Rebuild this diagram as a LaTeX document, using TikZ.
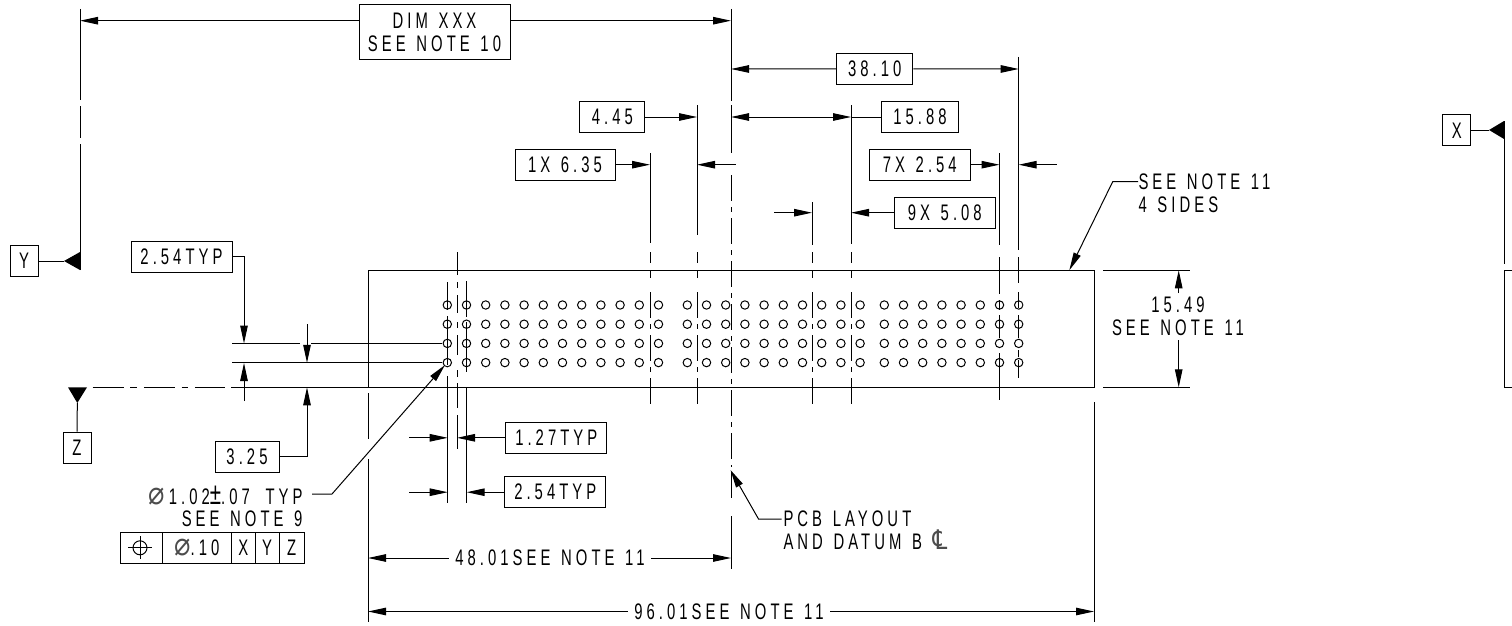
\documentclass[tikz,border=0pt]{standalone}
\usepackage{fontspec}
\setmainfont{Liberation Sans}[FakeStretch=0.66,LetterSpace=18,WordSpace=1.3]
\newfontfamily\symfont{DejaVu Sans}[FakeStretch=0.85]
\newcommand{\diasym}{{\symfont\fontsize{32}{22.7}\selectfont\color{black!70}⌀}}
\newcommand{\clsym}{{\symfont\fontsize{27}{22.7}\selectfont\color{black!70}℄}}
\newcommand{\plusminus}{{\fontsize{31}{22.7}\selectfont ±}}
\usetikzlibrary{arrows.meta}

\begin{document}
\begin{tikzpicture}[
                            x=1pt,
                            y=-1pt,
                            line width=1pt,
                            >={Stealth[length=18pt,width=7.5pt,inset=0pt]},
                            every node/.style={font=\fontsize{22.5}{22.7}\selectfont,inner sep=0pt}
                        ]

                        \tikzstyle{dimbox}=[draw,fill=white,minimum height=31pt]
                        \tikzstyle{fcfcell}=[draw,minimum height=31pt]
                        \tikzstyle{ctrline}=[dash pattern=on 26pt off 6pt on 5pt off 6pt]
                        \tikzstyle{axisline}=[dash pattern=on 31pt off 6.7pt on 6.7pt off 6.7pt]
                        \tikzstyle{runin}=[inner xsep=6pt]

                        \useasboundingbox (0,0) rectangle (1512,626);

                        \node[draw,minimum width=726pt,minimum height=117pt] (plate) at (731,328.7) {};

                        \foreach \gx/\gn in {447.3/11,687.3/9,884.3/7}
                            \foreach \c in {0,...,\gn}
                                \foreach \r in {0,...,3}
                                    \draw ({\gx+\c*19.2},{305+\r*19.2}) circle (4.2pt);

                        \foreach \ex/\et/\eb in {650/153/243,697/105/235,812/202/245,851/105/244}{
                            \draw (\ex,\et) -- (\ex,\eb);
                            \draw (\ex,252) -- (\ex,263);
                            \draw (\ex,270) -- (\ex,278);
                            \draw[ctrline] (\ex,292) -- (\ex,407);
                        }
                        \foreach \ex/\et/\eb in {
                            80/9/100,80/106/138,80/144/270,
                            447.7/282/310,447.7/316/365,447.7/376/503,
                            466.7/281/317,466.7/322/372,466.7/387/503,
                            457/252/275,457/282/288,457/295/313,457/322/328,457/335/355,457/370/377,457/383/408,457/415/449,
                            731/9/101,731/105/153,731/472/498,731/516/569,
                            999.5/153/245,999.5/257/294,999.5/300/310,999.5/315/338,999.5/353/400,
                            1018.7/57/250,1018.7/257/283,1018.7/292/308,1018.7/315/338,1018.7/350/357,1018.7/360/378,
                            368/393/439,368/459/622,1094/402/622,1504/121/264}
                            \draw (\ex,\et) -- (\ex,\eb);
                        \draw[ctrline] (731,175) -- (731,467);
                        \draw[axisline] (92.7,387.3) -- (225,387.3);
                        \draw (231,387.3) -- (368,387.3);
                        \draw (232,343.5) -- (300,343.5) (311,343.5) -- (442,343.5);
                        \draw (232,362.8) -- (442,362.8);
                        \draw (1103,270.3) -- (1190,270.3) (1103,387.3) -- (1190,387.3);
                        \draw (1512,270.3) -- (1504,270.3) -- (1504,387.3) -- (1512,387.3);

                        \fill (64,261) -- (80,252) -- (80,270) -- cycle;
                        \fill (68,387.3) -- (87,387.3) -- (77.3,403) -- cycle;
                        \fill (1489,130) -- (1504,121) -- (1504,139) -- cycle;

                        \node[dimbox,minimum height=55pt,minimum width=151pt,align=center] (dimxxx) at (434.5,32.5) {DIM XXX\\SEE NOTE 10};
                        \node[dimbox,minimum width=76.3pt] (d3810) at (874.8,68.8) {38.10};
                        \node[dimbox,minimum width=64.7pt] (d445)  at (612.3,117) {4.45};
                        \node[dimbox,minimum width=76.6pt] (d1588) at (920,117) {15.88};
                        \node[dimbox,minimum width=100pt]  (d635)  at (565,164.7) {1X 6.35};
                        \node[dimbox,minimum width=101pt]  (d254x) at (919.8,164.7) {7X 2.54};
                        \node[dimbox,minimum width=101pt]  (d508)  at (944.8,212.7) {9X 5.08};
                        \node[dimbox,minimum width=101pt]  (d254a) at (181.5,256.5) {2.54TYP};
                        \node[dimbox,minimum width=64pt]   (d325)  at (247,456.5) {3.25};
                        \node[dimbox,minimum width=101pt]  (d127)  at (556.3,437.8) {1.27TYP};
                        \node[dimbox,minimum width=101pt]  (d254b) at (555.3,492.2) {2.54TYP};

                        \node[dimbox,minimum width=28pt] (datY) at (24,261) {Y};
                        \node[dimbox,minimum width=28pt] (datZ) at (77,447.5) {Z};
                        \node[dimbox,minimum width=28pt] (datX) at (1456.7,130.3) {X};

                        \node[fcfcell,minimum width=41.6pt] (fcfpos) at (141.5,547.8) {};
                        \node[fcfcell,minimum width=69pt]   (fcftol) at (196.8,547.8) {\diasym .10};
                        \node[fcfcell,minimum width=23.7pt] (fcfx)   at (243.2,547.8) {X};
                        \node[fcfcell,minimum width=24pt]   (fcfy)   at (267,547.8) {Y};
                        \node[fcfcell,minimum width=25.3pt] (fcfz)   at (291.7,547.8) {Z};
                        \draw (140,547.8) circle (7pt);
                        \draw (128,547.8) -- (152,547.8) (140,536) -- (140,559);

                        \node[anchor=east,align=right] (holes) at (303,506.5) {\diasym\hspace{4pt}1.02\plusminus.07\hspace{5pt} TYP\\SEE NOTE 9};
                        \node[anchor=west,align=left] (noteside) at (1138,193.3) {SEE NOTE 11\\4 SIDES};
                        \node[align=center] (noteh) at (1178,316.5) {15.49\\SEE NOTE 11};
                        \node[anchor=west,align=left] (notepcb) at (783,530.3) {PCB LAYOUT\\AND DATUM B \clsym};
                        \node[runin] (half) at (550,558) {48.01SEE NOTE 11};
                        \node[runin] (full) at (729,611.5) {96.01SEE NOTE 11};

                        \coordinate (n80) at (80,20.7);
                        \coordinate (n731) at (731,20.7);
                        \coordinate (m731) at (731,69);
                        \coordinate (m1018) at (1018.7,69);
                        \coordinate (u731) at (731,117);
                        \coordinate (u851) at (851,117);

                        \path[->]
                        (dimxxx.west |- n80) edge (n80)
                        (dimxxx.east |- n731) edge (n731)
                        (d3810) edge (m731)
                        (d3810) edge (m1018)
                        (d445) edge (697,117)
                        (d635) edge (650,164.7)
                        (735.7,164.7) edge (697,164.7)
                        (d254x) edge (999.5,164.7)
                        (1056.7,164.7) edge (1018.7,164.7)
                        (774,212.7) edge (812,212.7)
                        (d508) edge (851,212.7)
                        (244,401) edge (244,363)
                        (307,324) edge (307,362.8)
                        (1178.7,293) edge (1178.7,270.3)
                        (1178.7,340) edge (1178.7,387.3)
                        (409.3,437.8) edge (447.7,437.8)
                        (d127) edge (457,437.8)
                        (409.3,492.2) edge (447.7,492.2)
                        (d254b) edge (466.7,492.2)
                        (half) edge (368,558)
                        (half) edge (731,558)
                        (full) edge (368,611.5)
                        (full) edge (1094,611.5)
                        ;
                        \draw (u851) -- (d1588);
                        \draw[<->] (u731) -- (u851);
                        \draw[->] (d254a.east) -| (244,343.5);
                        \draw[->] (d325.east) -| (307,387.3);
                        \draw[->] (312,494) -- (332,494) -- (445,365);
                        \draw[->] (noteside.west |- 0,181.7) -- (1112.7,181.7) -- (1069.3,270.3);
                        \draw[->] (781.7,519) -- (758.5,519) -- (730.5,470);

                        \draw (datY) -- (64,261);
                        \draw (datX) -- (1489,130.3);
                        \draw (datZ) -- (77.3,403);
                    \end{tikzpicture}
\end{document}
